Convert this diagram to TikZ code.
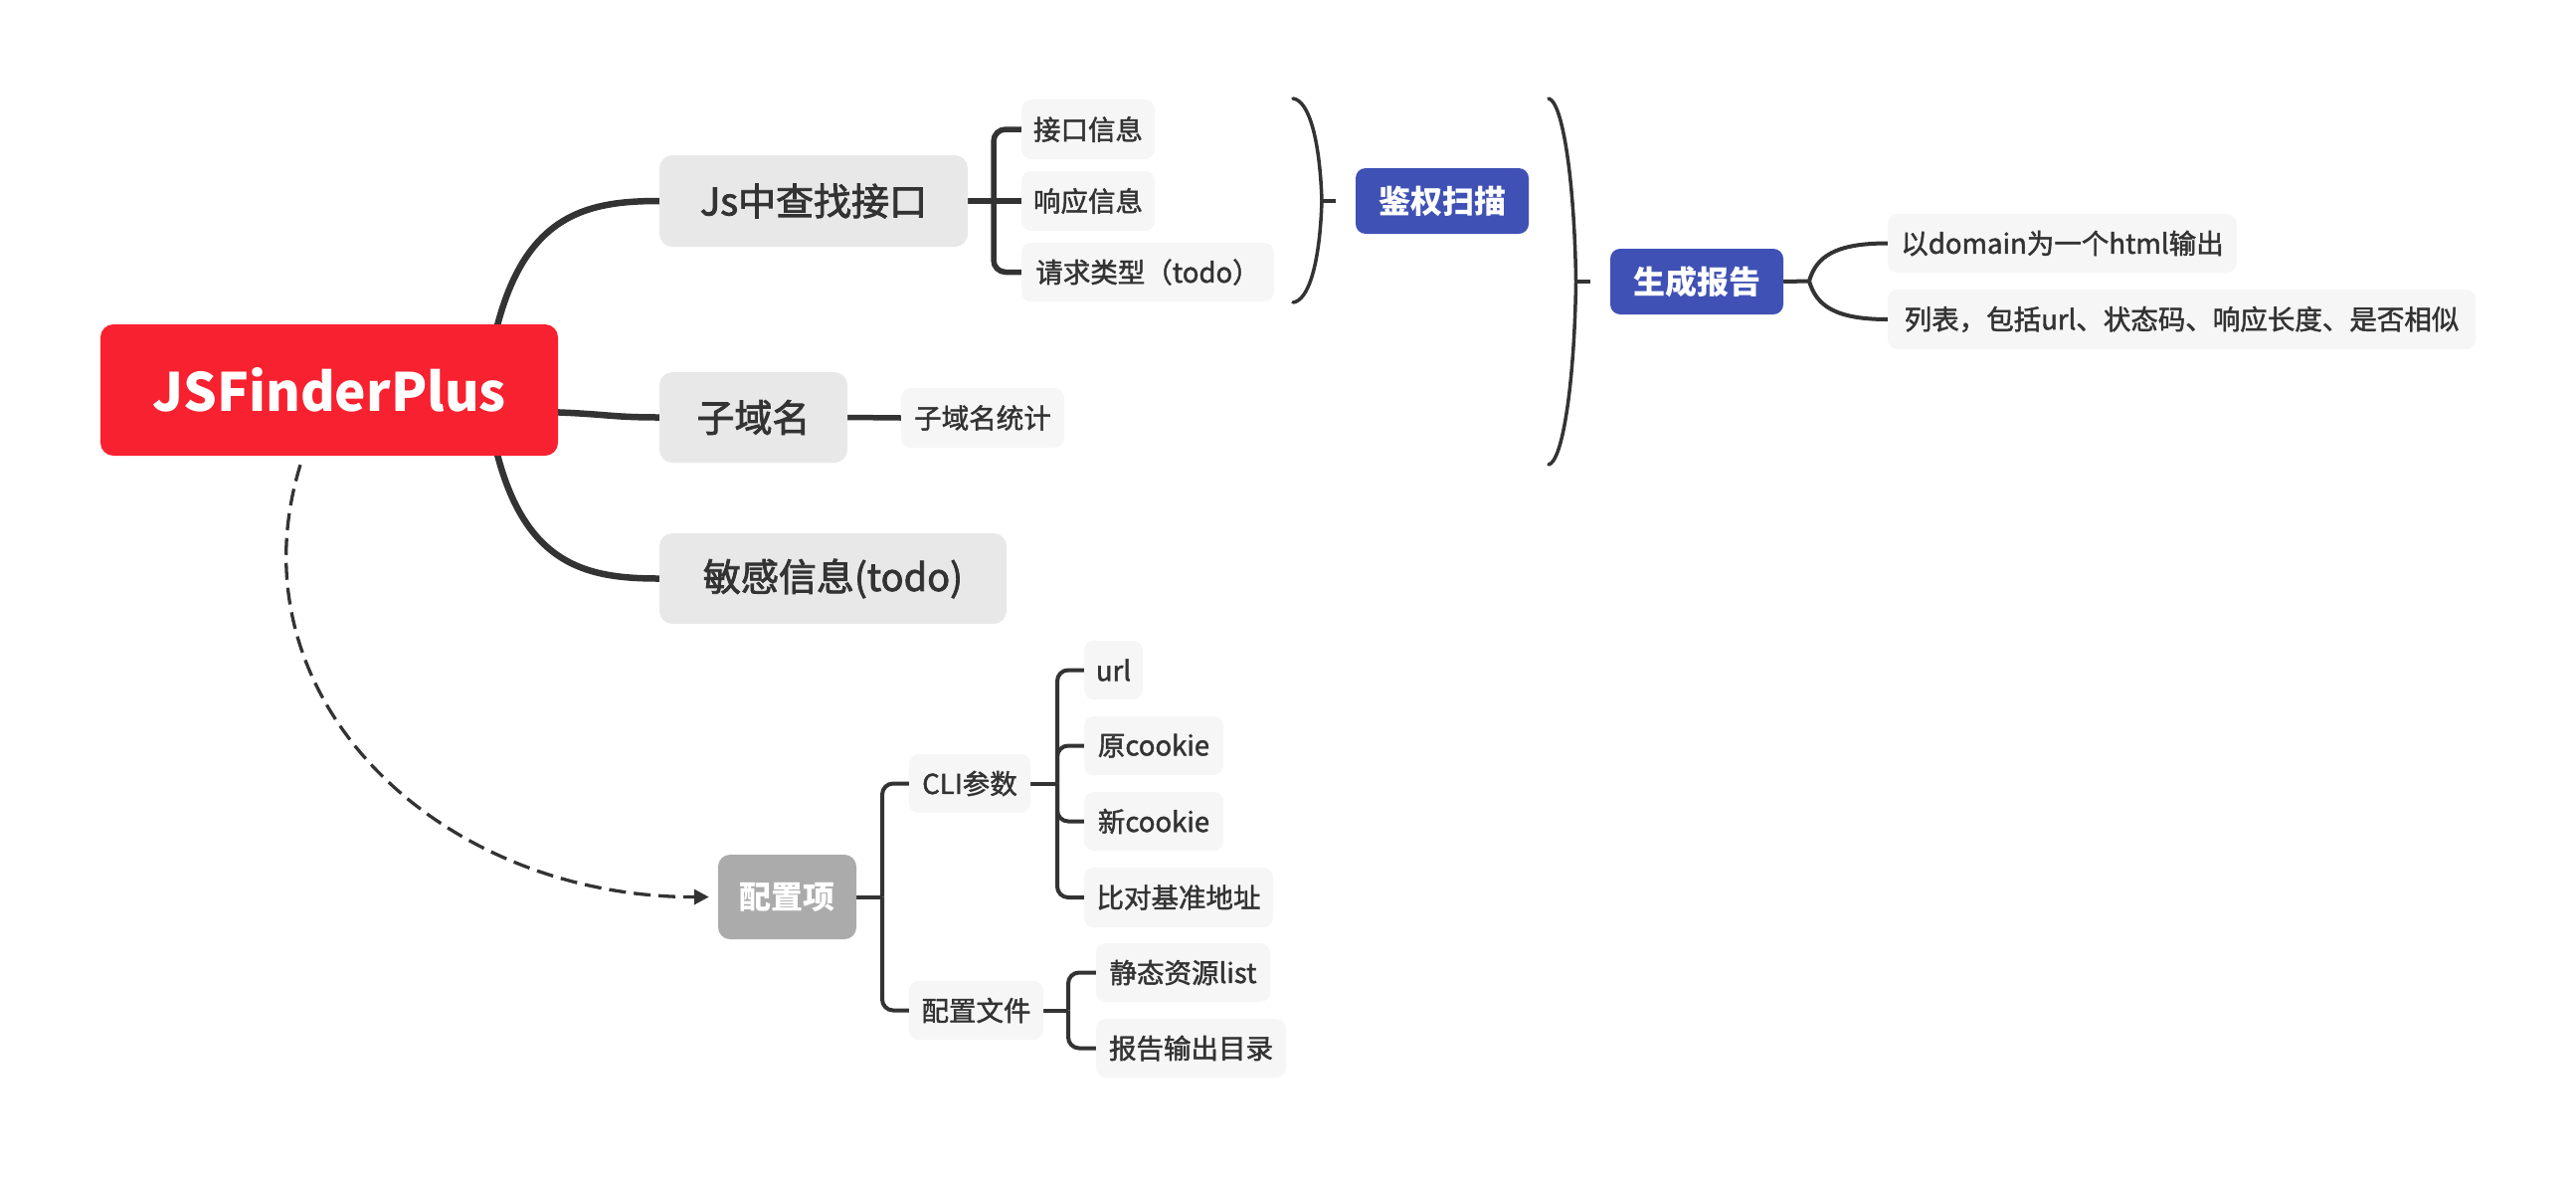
\documentclass[tikz,border=0pt]{standalone}
\usepackage{fontspec}
\setmainfont{Noto Sans CJK SC}
\newfontfamily\medfont[FakeBold=2.2]{Noto Sans CJK SC}
\newfontfamily\leaffont[FakeBold=1.6]{Noto Sans CJK SC}
\usetikzlibrary{arrows.meta,backgrounds,calc}
\definecolor{rootred}{HTML}{F8212F}
\definecolor{blueA}{HTML}{3F51B5}
\definecolor{grayA}{HTML}{E8E8E8}
\definecolor{grayB}{HTML}{F6F6F6}
\definecolor{grayC}{HTML}{ABABAB}
\definecolor{txt}{HTML}{333333}
\definecolor{ln}{HTML}{333333}
\tikzset{
  base/.style={rounded corners=10pt, inner sep=0pt, align=center, text=txt},
  rootbox/.style={base, fill=rootred, text=white, minimum width=460pt, minimum height=132pt, rounded corners=13pt, font=\bfseries\fontsize{53}{64}\selectfont},
  lvone/.style={base, fill=grayA, minimum height=92pt, rounded corners=13pt, font=\medfont\fontsize{38}{46}\selectfont},
  leaf/.style={base, fill=grayB, minimum height=60pt, font=\leaffont\fontsize{27.5}{33}\selectfont},
  bluebox/.style={base, fill=blueA, text=white, minimum height=66pt, minimum width=174pt, font=\bfseries\fontsize{32}{38}\selectfont},
  cfgbox/.style={base, fill=grayC, text=white, minimum height=85pt, minimum width=139pt, rounded corners=12pt, font=\bfseries\fontsize{32}{38}\selectfont},
  rootln/.style={draw=ln, line width=6.5pt},
  lvln/.style={draw=ln, line width=5.5pt},
  subln/.style={draw=ln, line width=4pt},
  sumln/.style={draw=ln, line width=3.5pt, line cap=round},
  dashln/.style={draw=ln, line width=3.3pt, dash pattern=on 17pt off 8pt, -{Triangle[length=15pt,width=15pt]}, shorten >=9pt}
}
\begin{document}
\begin{tikzpicture}[x=1pt,y=-1pt]
\useasboundingbox (0,0) rectangle (2590,1184);
% nodes
\node[rootbox] (root) at (331,392) {JSFinderPlus};
\node[lvone, minimum width=310pt] (js) at (818,202) {Js中查找接口};
\node[lvone, minimum width=189pt, minimum height=91pt] (sub) at (757.5,419.5) {子域名};
\node[lvone, minimum width=349pt, minimum height=91pt] (sens) at (837.5,581.5) {敏感信息(todo)};
\node[leaf, minimum width=134pt] (jk) at (1094,130) {接口信息};
\node[leaf, minimum width=134pt] (xy) at (1094,202) {响应信息};
\node[leaf, minimum width=254pt, minimum height=59pt] (qq) at (1154,273.5) {请求类型（todo）};
\node[leaf, minimum width=164pt] (subs) at (988,420) {子域名统计};
\node[bluebox] (auth) at (1450,202) {鉴权扫描};
\node[bluebox] (gen) at (1706,283) {生成报告};
\node[leaf, minimum width=351pt, minimum height=59pt] (g1) at (2073.5,244.5) {以domain为一个html输出};
\node[leaf, minimum width=591pt] (g2) at (2193.5,321) {列表，包括url、状态码、响应长度、是否相似};
\node[cfgbox] (cfg) at (791.5,901.5) {配置项};
\node[leaf, minimum width=122pt, minimum height=59pt] (cli) at (975,787.5) {CLI参数};
\node[leaf, minimum width=135pt, minimum height=59pt] (cfile) at (981.5,1015.5) {配置文件};
\node[leaf, minimum width=59pt, minimum height=59pt] (url) at (1119.5,673.5) {url};
\node[leaf, minimum width=140pt, minimum height=59pt] (oc) at (1160,749.5) {原cookie};
\node[leaf, minimum width=140pt, minimum height=59pt] (nc) at (1160,825.5) {新cookie};
\node[leaf, minimum width=190pt] (bd) at (1185,902) {比对基准地址};
\node[leaf, minimum width=175pt, minimum height=59pt] (sl) at (1189.5,977.5) {静态资源list};
\node[leaf, minimum width=191pt, minimum height=59pt] (rd) at (1197.5,1053.5) {报告输出目录};
% connectors
\begin{pgfonlayer}{background}
\fill[white] (0,0) rectangle (2590,1184);
\draw[rootln] ($(root.north)+(166,14)$) .. controls (525,215) and ($(js.west)+(-73,0)$) .. (js.west);
\draw[rootln] ($(root.east)+(-12,22)$) .. controls ($(root.east)+(50,24)$) and ($(sub.west)+(-50,0)$) .. (sub.west);
\draw[rootln] ($(root.south)+(166,-14)$) .. controls (525,569) and ($(sens.west)+(-73,0)$) .. (sens.west);
% Js children
\coordinate (jsJ) at (999,202);
\draw[lvln] (js.east) -- (jsJ) -- (xy.west);
\draw[lvln, rounded corners=12pt] (jsJ) |- (jk.west);
\draw[lvln, rounded corners=12pt] (jsJ) |- (qq.west);
\draw[lvln] (sub.east) -- (subs.west);
% summary brackets
\coordinate (b1t) at (1300,99);
\coordinate (b1m) at (1329,202);
\coordinate (b1b) at (1300,304);
\coordinate (b1s) at (1343,202);
\draw[sumln] (b1t) .. controls (1316,101) and (1327,140) .. (b1m) .. controls (1327,264) and (1316,302) .. (b1b);
\draw[sumln, line cap=butt] (b1m) -- (b1s);
\coordinate (b2t) at (1557,99);
\coordinate (b2m) at (1584.5,283);
\coordinate (b2b) at (1557,467);
\coordinate (b2s) at (1599,283);
\draw[sumln] (b2t) .. controls (1571,102) and (1583,180) .. (b2m) .. controls (1583,386) and (1571,464) .. (b2b);
\draw[sumln, line cap=butt] (b2m) -- (b2s);
% report children
\coordinate (genJ) at (1819,282.5);
\draw[subln] (gen.east) -- (genJ);
\draw[subln] (genJ) .. controls (1826,258) and (1845,244.5) .. (g1.west);
\draw[subln] (genJ) .. controls (1826,307) and (1845,321) .. (g2.west);
% config
\coordinate (cfgJ) at (887,901.5);
\draw[subln] (cfg.east) -- (cfgJ);
\draw[subln, rounded corners=11pt] (cfgJ) |- (cli.west);
\draw[subln, rounded corners=11pt] (cfgJ) |- (cfile.west);
\coordinate (cliJ) at (1063,787.5);
\draw[subln] (cli.east) -- (cliJ);
\foreach \c in {url,oc,nc,bd} \draw[subln, rounded corners=11pt] (cliJ) |- (\c.west);
\coordinate (cfJ) at (1074,1015.5);
\draw[subln] (cfile.east) -- (cfJ);
\foreach \c in {sl,rd} \draw[subln, rounded corners=11pt] (cfJ) |- (\c.west);
% dashed arrow
\draw[dashln] ($(root.south)+(-29,9)$) .. controls (230,700) and (440,902) .. (cfg.west);
\end{pgfonlayer}
\end{tikzpicture}
\end{document}
